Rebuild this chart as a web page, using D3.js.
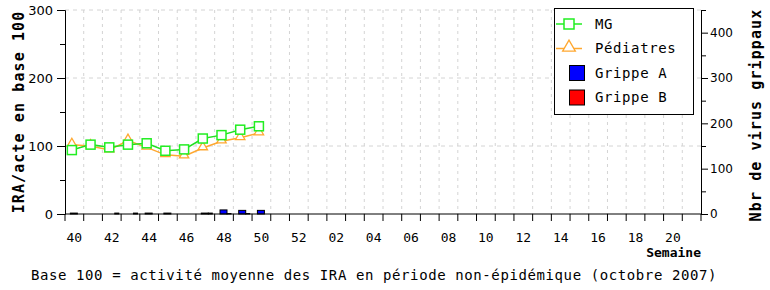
<!DOCTYPE html>
<html>
<head>
<meta charset="utf-8">
<script src="https://cdn.jsdelivr.net/npm/d3@7"></script>
<style>
  body { margin: 0; background: #fff; }
  svg { display: block; }
</style>
</head>
<body>
<div id="chart"></div>
<script>
// Weeks of the season (40 -> 21)
var weeks = ['40','41','42','43','44','45','46','47','48','49','50','51','52',
  '01','02','03','04','05','06','07','08','09','10','11','12','13','14','15','16','17','18','19','20','21'];
var week_labels = ['40','42','44','46','48','50','52','02','04','06','08','10','12','14','16','18','20'];

// IRA / acte, base 100
var mg_values = [94, 102, 98, 102, 104, 93, 95, 111, 116, 124, 129];
var pediatres_values = [102, 100, 94, 108, 98, 87, 85, 97, 107, 112, 119];

// Nombre de virus grippaux
var grippe_a_values = [2, 0, 0, 0, 2, 2, 0, 2, 9, 8, 8];
var grippe_b_values = [0, 0, 2, 2, 0, 0, 0, 2, 1, 1, 0];

var left_ticks = [0, 100, 200, 300];
var right_ticks = [0, 100, 200, 300, 400];

var width = 770, height = 290;
var margin = { left: 65, right: 69, top: 10, bottom: 76 };
var plot_w = width - margin.left - margin.right;
var plot_h = height - margin.top - margin.bottom;

var mono = "'DejaVu Sans Mono', monospace";
var sans = "'DejaVu Sans', sans-serif";

var svg = d3.select('#chart').append('svg')
  .attr('width', width)
  .attr('height', height);

var x = d3.scaleBand().domain(weeks).range([0, plot_w]).padding(0);
var y_left = d3.scaleLinear().domain([0, 300]).range([plot_h, 0]);
var y_right = d3.scaleLinear().domain([0, 450]).range([plot_h, 0]);

var g = svg.append('g')
  .attr('transform', 'translate(' + margin.left + ',' + margin.top + ')');

// Grid
var boundaries = d3.range(1, weeks.length).map(function(i){ return i * x.step(); });
g.append('g').selectAll('line')
  .data(boundaries)
  .join('line')
    .attr('x1', function(d){ return d; })
    .attr('x2', function(d){ return d; })
    .attr('y1', 0)
    .attr('y2', plot_h)
    .attr('stroke', '#d4d4d4')
    .attr('stroke-dasharray', '3,4');

g.append('g').selectAll('line')
  .data([100, 200, 300])
  .join('line')
    .attr('x1', 0)
    .attr('x2', plot_w)
    .attr('y1', function(d){ return y_left(d); })
    .attr('y2', function(d){ return y_left(d); })
    .attr('stroke', '#d4d4d4')
    .attr('stroke-dasharray', '4,4');

// Bars (virus grippaux)
var bar_data = [];
weeks.forEach(function(w, i){
  if (i < grippe_a_values.length) {
    bar_data.push({ week: w, value: grippe_a_values[i], dx: -4, w: 7, color: '#0000ff' });
    bar_data.push({ week: w, value: grippe_b_values[i], dx: 3, w: 4, color: '#ff0000' });
  }
});
g.append('g').selectAll('rect')
  .data(bar_data.filter(function(d){ return d.value > 0; }))
  .join('rect')
    .attr('x', function(d){ return x(d.week) + x.bandwidth() / 2 + d.dx; })
    .attr('y', function(d){ return y_right(d.value); })
    .attr('width', function(d){ return d.w; })
    .attr('height', function(d){ return plot_h - y_right(d.value); })
    .attr('fill', function(d){ return d.color; })
    .attr('stroke', '#000')
    .attr('stroke-width', 1);

// Lines
var cx = function(i){ return x(weeks[i]) + x.bandwidth() / 2 - 2.5; };
var line = d3.line()
  .x(function(d, i){ return cx(i); })
  .y(function(d){ return y_left(d); });

g.append('path')
  .datum(pediatres_values)
  .attr('d', line)
  .attr('fill', 'none')
  .attr('stroke', '#ffa830')
  .attr('stroke-width', 1.5);

g.append('path')
  .datum(mg_values)
  .attr('d', line)
  .attr('fill', 'none')
  .attr('stroke', '#22e022')
  .attr('stroke-width', 1.5);

var triangle = d3.symbol().type(d3.symbolTriangle).size(38);
g.append('g').selectAll('path')
  .data(pediatres_values)
  .join('path')
    .attr('d', triangle)
    .attr('transform', function(d, i){ return 'translate(' + cx(i) + ',' + (y_left(d) - 1) + ')'; })
    .attr('fill', '#fff')
    .attr('stroke', '#ffa830')
    .attr('stroke-width', 1.3);

g.append('g').selectAll('rect')
  .data(mg_values)
  .join('rect')
    .attr('x', function(d, i){ return cx(i) - 4.5; })
    .attr('y', function(d){ return y_left(d) - 4.5; })
    .attr('width', 9)
    .attr('height', 9)
    .attr('fill', '#fff')
    .attr('stroke', '#22ee22')
    .attr('stroke-width', 1.5);

// Left axis
var left_axis = g.append('g')
  .call(d3.axisLeft(y_left).tickValues(d3.range(0, 301, 50)).tickSize(5).tickFormat(''));
left_axis.selectAll('.tick line').filter(function(d){ return d % 100 === 0; }).attr('x2', -8);
left_axis.append('g').selectAll('text')
  .data(left_ticks)
  .join('text')
    .attr('x', -12)
    .attr('y', function(d){ return y_left(d); })
    .attr('dy', '0.35em')
    .attr('text-anchor', 'end')
    .attr('fill', '#000')
    .style('font-family', sans)
    .style('font-size', '13px')
    .text(function(d){ return d; });

// Right axis
var right_axis = g.append('g')
  .attr('transform', 'translate(' + plot_w + ',0)')
  .call(d3.axisRight(y_right).tickValues(d3.range(0, 451, 50)).tickSize(5).tickFormat(''));
right_axis.selectAll('.tick line').filter(function(d){ return d % 100 === 0; }).attr('x2', 7);
right_axis.append('g').selectAll('text')
  .data(right_ticks)
  .join('text')
    .attr('x', 9)
    .attr('y', function(d){ return y_right(d); })
    .attr('dy', '0.35em')
    .attr('text-anchor', 'start')
    .attr('fill', '#000')
    .style('font-family', sans)
    .style('font-size', '12px')
    .text(function(d){ return d; });

// Bottom axis
var bottom_axis = g.append('g')
  .attr('transform', 'translate(0,' + plot_h + ')');
bottom_axis.append('line')
  .attr('x1', 0).attr('x2', plot_w)
  .attr('stroke', '#000');
bottom_axis.selectAll('.xtick')
  .data(d3.range(0, weeks.length + 1).map(function(i){ return i * x.step(); }))
  .join('line')
    .attr('class', 'xtick')
    .attr('x1', function(d){ return d; })
    .attr('x2', function(d){ return d; })
    .attr('y1', 0)
    .attr('y2', 7)
    .attr('stroke', '#000');
bottom_axis.selectAll('.xlabel')
  .data(week_labels)
  .join('text')
    .attr('class', 'xlabel')
    .attr('x', function(d){ return x(d) + x.bandwidth() / 2; })
    .attr('y', 28)
    .attr('text-anchor', 'middle')
    .style('font-family', mono)
    .style('font-size', '13px')
    .text(function(d){ return d; });

g.selectAll('.domain').attr('stroke', '#000');
g.selectAll('.tick line').attr('stroke', '#000');

// Titles
svg.append('text')
  .attr('transform', 'translate(24,' + (margin.top + plot_h / 2) + ') rotate(-90)')
  .attr('text-anchor', 'middle')
  .style('font-family', mono)
  .style('font-weight', 'bold')
  .style('font-size', '15px')
  .style('letter-spacing', '1.1px')
  .text('IRA/acte en base 100');

svg.append('text')
  .attr('transform', 'translate(761,' + (margin.top + plot_h / 2 + 3) + ') rotate(-90)')
  .attr('text-anchor', 'middle')
  .style('font-family', mono)
  .style('font-weight', 'bold')
  .style('font-size', '15px')
  .style('letter-spacing', '1.1px')
  .text('Nbr de virus grippaux');

svg.append('text')
  .attr('x', margin.left + plot_w)
  .attr('y', 257)
  .attr('text-anchor', 'end')
  .style('font-family', mono)
  .style('font-weight', 'bold')
  .style('font-size', '13px')
  .text('Semaine');

svg.append('text')
  .attr('x', 374)
  .attr('y', 280)
  .attr('text-anchor', 'middle')
  .style('font-family', mono)
  .style('font-size', '14px')
  .style('letter-spacing', '0.6px')
  .text('Base 100 = activité moyenne des IRA en période non-épidémique (octobre 2007)');

// Legend
var legend_items = [
  { label: 'MG', type: 'square', color: '#22ee22' },
  { label: 'Pédiatres', type: 'triangle', color: '#ffa830' },
  { label: 'Grippe A', type: 'bar', color: '#0000ff' },
  { label: 'Grippe B', type: 'bar', color: '#ff0000' }
];
var legend = svg.append('g').attr('transform', 'translate(554,8)');
legend.append('rect')
  .attr('x', 0.5).attr('y', 0.5)
  .attr('width', 139).attr('height', 106)
  .attr('fill', '#fff')
  .attr('stroke', '#000');

var legend_row = legend.selectAll('.row')
  .data(legend_items)
  .join('g')
    .attr('class', 'row')
    .attr('transform', function(d, i){ return 'translate(0,' + (16 + i * 24.5) + ')'; });

legend_row.filter(function(d){ return d.type !== 'bar'; })
  .append('line')
    .attr('x1', 2).attr('x2', 28)
    .attr('stroke', function(d){ return d.color; })
    .attr('stroke-width', 1.5);
legend_row.filter(function(d){ return d.type === 'square'; })
  .append('rect')
    .attr('x', 10).attr('y', -5)
    .attr('width', 10).attr('height', 10)
    .attr('fill', '#fff')
    .attr('stroke', function(d){ return d.color; })
    .attr('stroke-width', 1.5);
legend_row.filter(function(d){ return d.type === 'triangle'; })
  .append('path')
    .attr('d', d3.symbol().type(d3.symbolTriangle).size(70))
    .attr('transform', 'translate(15,-1)')
    .attr('fill', '#fff')
    .attr('stroke', function(d){ return d.color; })
    .attr('stroke-width', 1.3);
legend_row.filter(function(d){ return d.type === 'bar'; })
  .append('rect')
    .attr('x', 15.5).attr('y', -7.5)
    .attr('width', 15).attr('height', 15)
    .attr('fill', function(d){ return d.color; })
    .attr('stroke', '#000');
legend_row.append('text')
  .attr('x', 41)
  .attr('dy', '0.35em')
  .style('font-family', mono)
  .style('font-size', '14px')
  .style('letter-spacing', '0.6px')
  .text(function(d){ return d.label; });
</script>
</body>
</html>
